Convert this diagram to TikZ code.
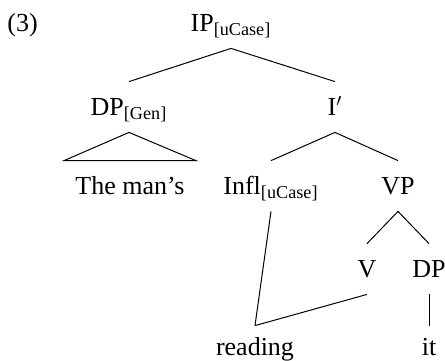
\documentclass[tikz,border=0pt]{standalone}
\usepackage{amsmath}
\usepackage{fontspec}
\setmainfont{Liberation Serif}
\usepackage{tikz}
\usetikzlibrary{calc}

\begin{document}
\begin{tikzpicture}[
    x=0.5pt, y=-0.5pt,
    cat/.style={anchor=base, inner xsep=0pt, inner ysep=0pt, text height=16.5pt, text depth=8.5pt, font=\fontsize{13}{15}\selectfont},
    word/.style={cat, text height=14.5pt},
    branch/.style={line width=0.5pt}
    ]
    \useasboundingbox (0,0) rectangle (445,360);

    % Example number
    \node[cat, anchor=base west] (num) at (7,31) {(3)};

    % Root
    \node[cat] (ip) at (231,31) {IP$_{\text{[uCase]}}$};

    % Specifier and bar level
    \node[cat] (dp) at (129,115) {DP$_{\text{[Gen]}}$};
    \node[cat] (ibar) at (335,115) {I$'$};
    \draw[branch] (ip.south) -- (dp.north);
    \draw[branch] (ip.south) -- (ibar.north);

    % Possessor (triangle)
    \node[cat, inner xsep=5.5pt] (poss) at (130,194) {The man’s};
    \draw[branch] (dp.south) -- (poss.north west) -- (poss.north east) -- cycle;

    % Infl and VP
    \node[cat] (infl) at (271,194) {Infl$_{\text{[uCase]}}$};
    \node[cat] (vp) at (398,194) {VP};
    \draw[branch] (ibar.south) -- (infl.north);
    \draw[branch] (ibar.south) -- (vp.north);

    % Inside VP
    \node[cat] (v) at (367,277) {V};
    \node[cat] (obj) at (429,277) {DP};
    \draw[branch] (vp.south) -- (v.north);
    \draw[branch] (vp.south) -- (obj.north);

    % Terminals
    \node[word] (verb) at (255,355) {reading};
    \node[word] (it) at (429,355) {it};
    \draw[branch] (infl.south) -- (verb.north);
    \draw[branch] (v.south) -- (verb.north);
    \draw[branch] (obj.south) -- (it.north);

\end{tikzpicture}
\end{document}
